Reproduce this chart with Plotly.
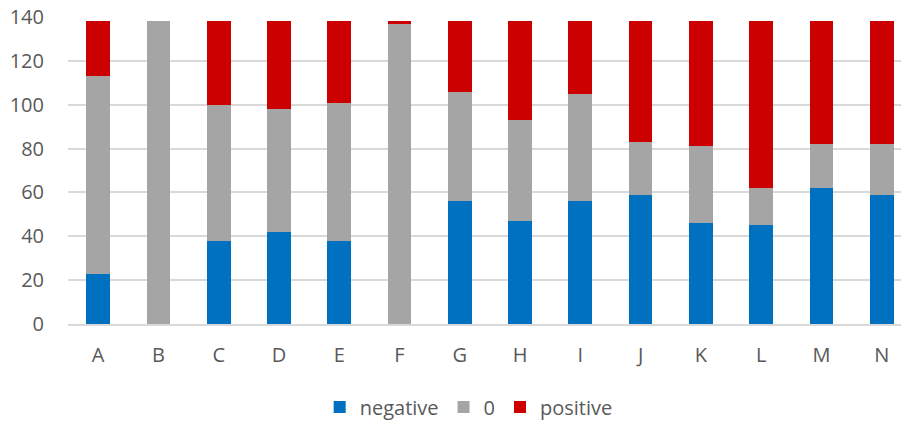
import plotly.graph_objects as go

categories = ["A", "B", "C", "D", "E", "F", "G", "H", "I", "J", "K", "L", "M", "N"]
negative = [23, 0, 38, 42, 38, 0, 56, 47, 56, 59, 46, 45, 62, 59]
zero = [90, 138, 62, 56, 63, 137, 50, 46, 49, 24, 35, 17, 20, 23]
positive = [25, 0, 38, 40, 37, 1, 32, 45, 33, 55, 57, 76, 56, 56]
y_ticks = [0, 20, 40, 60, 80, 100, 120, 140]

series = [("negative", negative, "#0070C0"), ("0", zero, "#A5A5A5"), ("positive", positive, "#CC0000")]

fig = go.Figure()
for name, vals, color in series:
    fig.add_trace(go.Bar(x=categories, y=vals, name=name, marker=dict(color=color, line=dict(width=0))))

font_family = "Open Sans, Liberation Sans, sans-serif"
fig.update_layout(
    barmode="stack",
    bargap=0.607,
    width=901, height=422,
    margin=dict(l=68, r=0, t=17, b=98, autoexpand=False),
    plot_bgcolor="white", paper_bgcolor="white",
    font=dict(family=font_family, size=20, color="#595959"),
    showlegend=True,
    legend=dict(orientation="h", x=0.481, xanchor="center", y=-0.27, yanchor="middle",
                font=dict(size=20, color="#595959"), traceorder="normal",
                itemwidth=30),
    xaxis=dict(range=[-0.5, 13.32], showgrid=False, ticks="", showline=True,
               linecolor="#d9d9d9", linewidth=1.5, tickfont=dict(size=20),
               automargin=False, ticklabelstandoff=12),
    yaxis=dict(range=[0, 140], tickvals=y_ticks, showgrid=True, gridcolor="#d9d9d9",
               gridwidth=1.5, zeroline=False, ticks="", tickfont=dict(size=20),
               ticklabelstandoff=23, automargin=False, ticklabeloverflow="allow"),
)
fig.write_html("out.html", config={"displayModeBar": False},
               post_script="document.body.style.margin='0';document.body.style.overflow='hidden';")
